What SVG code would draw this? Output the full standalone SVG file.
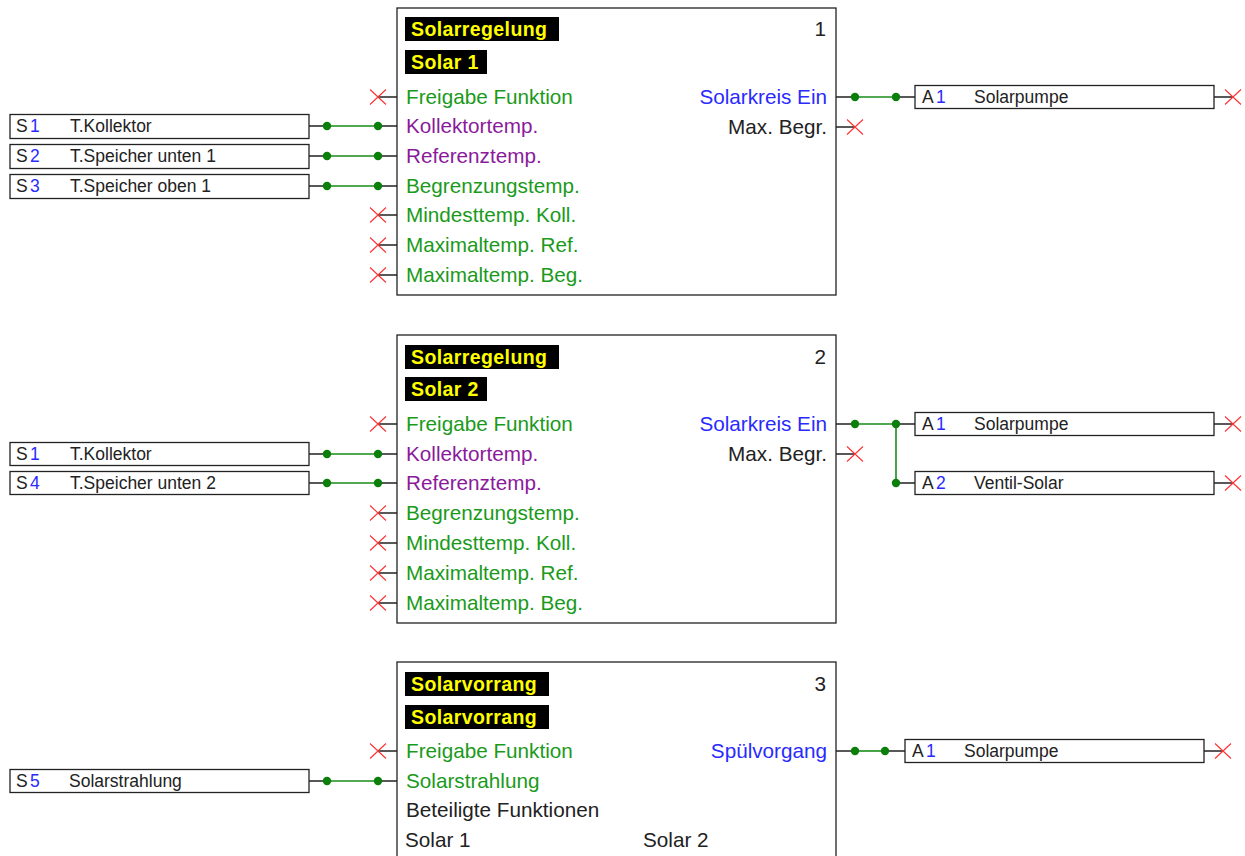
<svg xmlns="http://www.w3.org/2000/svg" xmlns:xlink="http://www.w3.org/1999/xlink" width="1245" height="856" viewBox="0 0 1245 856">
<style>
text{font-family:"Liberation Sans",Arial,sans-serif}
.blk{fill:#fff;stroke:#222;stroke-width:1.3}
.box{fill:#fff;stroke:#222;stroke-width:1.3}
.t{font-size:20.7px}
.bt{font-size:17.5px;fill:#222}
.hd{font-size:19.5px;font-weight:bold;fill:#ffff00;letter-spacing:0.4px}
.hbg{fill:#000}
.g{fill:#1a9a1a}
.p{fill:#8b1a9b}
.b{fill:#2a2aff}
.k{fill:#222}
.num{fill:#2a2aff}
.wl{stroke:#222;stroke-width:1.3;fill:none}
.gl{stroke:#1a8c1a;stroke-width:1.6;fill:none}
.dot{fill:#0a800a}
.xm{stroke:#ff3030;stroke-width:1.1;fill:none}
</style>
<defs>
<g id="xmark"><path class="xm" d="M-8,-7.5L8,7.5M-8,7.5L8,-7.5"/></g>
<circle id="dt" r="4.2" class="dot"/>
</defs>

<g id="connectors">
  <path class="wl" d="M378,97H397M378,215H397M378,245H397M378,275H397"/>
  <path class="wl" d="M309,126H327M378,126H397M309,156H327M378,156H397M309,186H327M378,186H397"/>
  <path class="gl" d="M327,126H378M327,156H378M327,186H378"/>
  <path class="wl" d="M836,97H855M896,97H915M836,127H855M1214,97H1233"/>
  <path class="gl" d="M855,97H896"/>
  <path class="wl" d="M378,424H397M378,513H397M378,543H397M378,573H397M378,603H397"/>
  <path class="wl" d="M309,454H327M378,454H397M309,483H327M378,483H397"/>
  <path class="gl" d="M327,454H378M327,483H378"/>
  <path class="wl" d="M836,424H855M896,424H915M896,483H915M836,454H855M1214,424H1233M1214,483H1233"/>
  <path class="gl" d="M855,424H896V483"/>
  <path class="wl" d="M378,751H397M309,781H327M378,781H397"/>
  <path class="gl" d="M327,781H378"/>
  <path class="wl" d="M836,751H855M885,751H905M1204,751H1223"/>
  <path class="gl" d="M855,751H885"/>
  <use xlink:href="#dt" x="327" y="126"/><use xlink:href="#dt" x="378" y="126"/>
  <use xlink:href="#dt" x="327" y="156"/><use xlink:href="#dt" x="378" y="156"/>
  <use xlink:href="#dt" x="327" y="186"/><use xlink:href="#dt" x="378" y="186"/>
  <use xlink:href="#dt" x="855" y="97"/><use xlink:href="#dt" x="896" y="97"/>
  <use xlink:href="#dt" x="327" y="454"/><use xlink:href="#dt" x="378" y="454"/>
  <use xlink:href="#dt" x="327" y="483"/><use xlink:href="#dt" x="378" y="483"/>
  <use xlink:href="#dt" x="855" y="424"/><use xlink:href="#dt" x="896" y="424"/><use xlink:href="#dt" x="896" y="483"/>
  <use xlink:href="#dt" x="327" y="781"/><use xlink:href="#dt" x="378" y="781"/>
  <use xlink:href="#dt" x="855" y="751"/><use xlink:href="#dt" x="885" y="751"/>
  <use xlink:href="#xmark" x="378" y="97"/><use xlink:href="#xmark" x="378" y="215"/><use xlink:href="#xmark" x="378" y="245"/><use xlink:href="#xmark" x="378" y="275"/>
  <use xlink:href="#xmark" x="855" y="127"/><use xlink:href="#xmark" x="1233" y="97"/>
  <use xlink:href="#xmark" x="378" y="424"/><use xlink:href="#xmark" x="378" y="513"/><use xlink:href="#xmark" x="378" y="543"/><use xlink:href="#xmark" x="378" y="573"/><use xlink:href="#xmark" x="378" y="603"/>
  <use xlink:href="#xmark" x="855" y="454"/><use xlink:href="#xmark" x="1233" y="424"/><use xlink:href="#xmark" x="1233" y="483"/>
  <use xlink:href="#xmark" x="378" y="751"/><use xlink:href="#xmark" x="1223" y="751"/>
</g>

<g id="block1">
  <rect class="blk" x="397" y="8" width="439" height="287"/>
  <rect class="hbg" x="405" y="17" width="154" height="24"/>
  <text class="hd" x="411" y="36">Solarregelung</text>
  <rect class="hbg" x="405" y="50" width="82" height="24"/>
  <text class="hd" x="411" y="69">Solar 1</text>
  <text class="t k" x="826" y="36" text-anchor="end">1</text>
  <text class="t g" x="406" y="104">Freigabe Funktion</text>
  <text class="t p" x="406" y="133">Kollektortemp.</text>
  <text class="t p" x="406" y="163">Referenztemp.</text>
  <text class="t g" x="406" y="193">Begrenzungstemp.</text>
  <text class="t g" x="406" y="222">Mindesttemp. Koll.</text>
  <text class="t g" x="406" y="252">Maximaltemp. Ref.</text>
  <text class="t g" x="406" y="282">Maximaltemp. Beg.</text>
  <text class="t b" x="827" y="104" text-anchor="end">Solarkreis Ein</text>
  <text class="t k" x="827" y="134" text-anchor="end">Max. Begr.</text>
</g>

<g id="block2">
  <rect class="blk" x="397" y="335" width="439" height="288"/>
  <rect class="hbg" x="405" y="345" width="154" height="24"/>
  <text class="hd" x="411" y="364">Solarregelung</text>
  <rect class="hbg" x="405" y="377" width="82" height="24"/>
  <text class="hd" x="411" y="396">Solar 2</text>
  <text class="t k" x="826" y="364" text-anchor="end">2</text>
  <text class="t g" x="406" y="431">Freigabe Funktion</text>
  <text class="t p" x="406" y="461">Kollektortemp.</text>
  <text class="t p" x="406" y="490">Referenztemp.</text>
  <text class="t g" x="406" y="520">Begrenzungstemp.</text>
  <text class="t g" x="406" y="550">Mindesttemp. Koll.</text>
  <text class="t g" x="406" y="580">Maximaltemp. Ref.</text>
  <text class="t g" x="406" y="610">Maximaltemp. Beg.</text>
  <text class="t b" x="827" y="431" text-anchor="end">Solarkreis Ein</text>
  <text class="t k" x="827" y="461" text-anchor="end">Max. Begr.</text>
</g>

<g id="block3">
  <rect class="blk" x="397" y="662" width="439" height="210"/>
  <rect class="hbg" x="405" y="672" width="144" height="24"/>
  <text class="hd" x="411" y="691">Solarvorrang</text>
  <rect class="hbg" x="405" y="705" width="144" height="24"/>
  <text class="hd" x="411" y="724">Solarvorrang</text>
  <text class="t k" x="826" y="691" text-anchor="end">3</text>
  <text class="t g" x="406" y="758">Freigabe Funktion</text>
  <text class="t g" x="406" y="788">Solarstrahlung</text>
  <text class="t k" x="406" y="817">Beteiligte Funktionen</text>
  <text class="t k" x="405" y="847">Solar 1</text>
  <text class="t k" x="643" y="847">Solar 2</text>
  <text class="t b" x="827" y="758" text-anchor="end">Spülvorgang</text>
</g>

<g id="in-S1a"><rect class="box" x="10" y="114.5" width="299" height="24"/><text class="bt" x="16" y="132">S<tspan class="num" x="30">1</tspan><tspan x="70">T.Kollektor</tspan></text></g>
<g id="in-S2"><rect class="box" x="10" y="144.5" width="299" height="24"/><text class="bt" x="16" y="162">S<tspan class="num" x="30">2</tspan><tspan x="70">T.Speicher unten 1</tspan></text></g>
<g id="in-S3"><rect class="box" x="10" y="174.5" width="299" height="24"/><text class="bt" x="16" y="192">S<tspan class="num" x="30">3</tspan><tspan x="70">T.Speicher oben 1</tspan></text></g>
<g id="out-A1a"><rect class="box" x="915" y="85.5" width="299" height="23"/><text class="bt" x="922" y="103">A<tspan class="num" x="936">1</tspan><tspan x="974">Solarpumpe</tspan></text></g>

<g id="in-S1b"><rect class="box" x="10" y="442.5" width="299" height="23"/><text class="bt" x="16" y="460">S<tspan class="num" x="30">1</tspan><tspan x="70">T.Kollektor</tspan></text></g>
<g id="in-S4"><rect class="box" x="10" y="471.5" width="299" height="23"/><text class="bt" x="16" y="489">S<tspan class="num" x="30">4</tspan><tspan x="70">T.Speicher unten 2</tspan></text></g>
<g id="out-A1b"><rect class="box" x="915" y="412.5" width="299" height="23"/><text class="bt" x="922" y="430">A<tspan class="num" x="936">1</tspan><tspan x="974">Solarpumpe</tspan></text></g>
<g id="out-A2"><rect class="box" x="915" y="471.5" width="299" height="23"/><text class="bt" x="922" y="489">A<tspan class="num" x="936">2</tspan><tspan x="974">Ventil-Solar</tspan></text></g>

<g id="in-S5"><rect class="box" x="10" y="769.5" width="299" height="23"/><text class="bt" x="16" y="787">S<tspan class="num" x="30">5</tspan><tspan x="69">Solarstrahlung</tspan></text></g>
<g id="out-A1c"><rect class="box" x="905" y="739.5" width="299" height="23"/><text class="bt" x="912" y="757">A<tspan class="num" x="926">1</tspan><tspan x="964">Solarpumpe</tspan></text></g>
</svg>
